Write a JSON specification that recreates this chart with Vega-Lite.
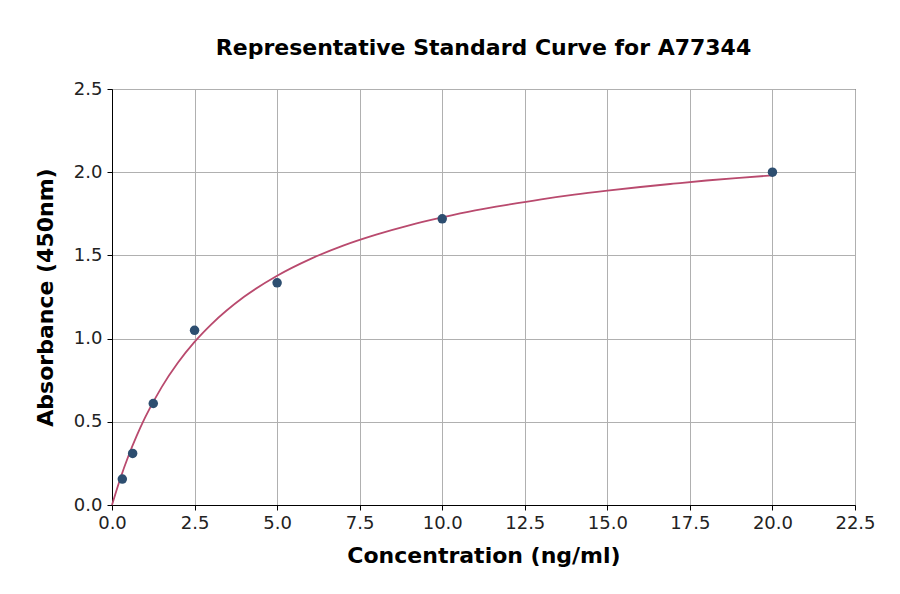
{
  "$schema": "https://vega.github.io/schema/vega-lite/v6.json",
  "width": 743,
  "height": 416,
  "autosize": {"type": "none"},
  "padding": {"left": 112, "top": 89, "right": 45, "bottom": 89},
  "background": "white",
  "title": {
    "text": "Representative Standard Curve for A77344",
    "font": "DejaVu Sans",
    "fontSize": 22,
    "fontWeight": "bold",
    "color": "black",
    "anchor": "middle",
    "offset": 20
  },
  "config": {
    "view": {"stroke": "black", "strokeWidth": 1},
    "axis": {
      "labelFont": "DejaVu Sans",
      "labelFontSize": 18,
      "labelColor": "#222",
      "labelFlush": false,
      "labelOverlap": false,
      "titleFont": "DejaVu Sans",
      "titleFontSize": 22,
      "titleFontWeight": "bold",
      "titleColor": "black",
      "gridColor": "#b0b0b0",
      "gridWidth": 1,
      "tickColor": "black",
      "tickSize": 5,
      "domainColor": "black"
    }
  },
  "datasets": {
    "points": [
      {"conc": 0.3125, "abs": 0.156},
      {"conc": 0.625, "abs": 0.31},
      {"conc": 1.25, "abs": 0.61},
      {"conc": 2.5, "abs": 1.05},
      {"conc": 5, "abs": 1.335},
      {"conc": 10, "abs": 1.72},
      {"conc": 20, "abs": 2.0}
    ],
    "curve": [
      {"conc": 0, "abs": 0},
      {"conc": 0.25, "abs": 0.158},
      {"conc": 0.5, "abs": 0.296},
      {"conc": 0.75, "abs": 0.417},
      {"conc": 1, "abs": 0.525},
      {"conc": 1.5, "abs": 0.707},
      {"conc": 2, "abs": 0.856},
      {"conc": 2.5, "abs": 0.98},
      {"conc": 3, "abs": 1.084},
      {"conc": 4, "abs": 1.251},
      {"conc": 5, "abs": 1.378},
      {"conc": 6, "abs": 1.478},
      {"conc": 7, "abs": 1.559},
      {"conc": 8, "abs": 1.625},
      {"conc": 9, "abs": 1.681},
      {"conc": 10, "abs": 1.728},
      {"conc": 11, "abs": 1.77},
      {"conc": 12, "abs": 1.805},
      {"conc": 13, "abs": 1.837},
      {"conc": 14, "abs": 1.865},
      {"conc": 15, "abs": 1.889},
      {"conc": 16, "abs": 1.911},
      {"conc": 17, "abs": 1.931},
      {"conc": 18, "abs": 1.95},
      {"conc": 19, "abs": 1.966},
      {"conc": 20, "abs": 1.981}
    ]
  },
  "layer": [
    {
      "data": {"name": "curve"},
      "mark": {"type": "line", "color": "#b94a6e", "strokeWidth": 1.8, "interpolate": "monotone"},
      "encoding": {
        "x": {
          "field": "conc",
          "type": "quantitative",
          "scale": {"domain": [0, 22.5], "nice": false},
          "axis": {"values": [0, 2.5, 5, 7.5, 10, 12.5, 15, 17.5, 20, 22.5], "format": ".1f", "title": "Concentration (ng/ml)", "labelPadding": 4, "titlePadding": 13}
        },
        "y": {
          "field": "abs",
          "type": "quantitative",
          "scale": {"domain": [0, 2.5], "nice": false},
          "axis": {"values": [0, 0.5, 1, 1.5, 2, 2.5], "format": ".1f", "title": "Absorbance (450nm)", "labelPadding": 5, "titlePadding": 16}
        }
      }
    },
    {
      "data": {"name": "points"},
      "mark": {"type": "circle", "color": "#2d4e70", "opacity": 1, "size": 90},
      "encoding": {
        "x": {"field": "conc", "type": "quantitative"},
        "y": {"field": "abs", "type": "quantitative"}
      }
    }
  ]
}
